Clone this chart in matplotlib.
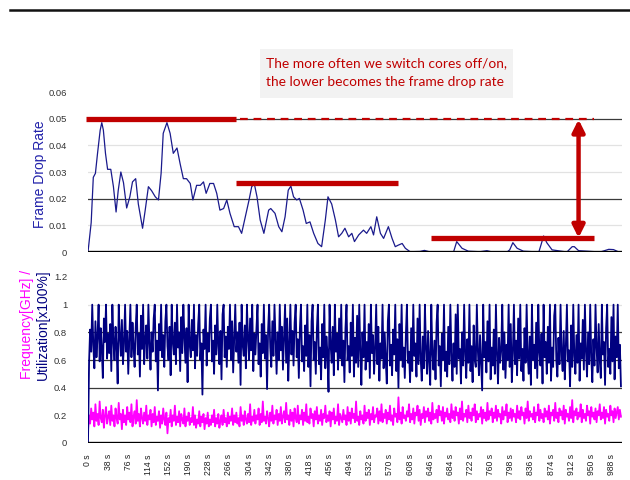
import matplotlib
matplotlib.use("Agg")
import matplotlib.pyplot as plt
from matplotlib.patches import Rectangle
import numpy as np

# frame drop rate over time (s, rate)
drop_t = [0, 6, 10, 14, 18, 23, 26, 29, 33, 37, 43, 48, 53, 57, 62, 67, 73, 79, 84, 90,
          95, 103, 108, 114, 120, 127, 133, 138, 142, 149, 155, 161, 168, 174, 180, 186,
          193, 198, 205, 212, 218, 223, 230, 237, 243, 249, 256, 262, 268, 276, 284, 290,
          297, 304, 309, 314, 319, 325, 332, 341, 345, 353, 360, 366, 372, 378, 383, 388,
          394, 399, 406, 412, 419, 426, 434, 441, 448, 453, 460, 467, 473, 479, 485, 492,
          498, 503, 511, 520, 526, 534, 539, 545, 552, 558, 567, 574, 580, 586, 593, 599,
          608, 627, 635, 646, 652, 690, 696, 706, 718, 740, 753, 763, 791, 796, 802, 810,
          822, 851, 855, 860, 866, 876, 904, 914, 918, 926, 967, 983, 992, 1002]
drop_v = [0.0, 0.011, 0.028, 0.0295, 0.037, 0.0457, 0.0485, 0.0457, 0.037, 0.031, 0.031,
          0.0245, 0.015, 0.023, 0.030, 0.026, 0.0165, 0.0207, 0.0263, 0.0275, 0.018, 0.0089,
          0.0157, 0.0245, 0.023, 0.0207, 0.0195, 0.0295, 0.0445, 0.0485, 0.0445, 0.037,
          0.039, 0.033, 0.0275, 0.0275, 0.0257, 0.0195, 0.025, 0.025, 0.0263, 0.022, 0.0257,
          0.0257, 0.022, 0.0157, 0.0163, 0.0195, 0.0145, 0.0095, 0.0095, 0.007, 0.0132,
          0.0195, 0.0245, 0.0255, 0.0207, 0.012, 0.007, 0.0157, 0.0163, 0.0145, 0.0095,
          0.0076, 0.0132, 0.0232, 0.0247, 0.0207, 0.0195, 0.0201, 0.0157, 0.0107, 0.0113,
          0.007, 0.0032, 0.002, 0.012, 0.0207, 0.018, 0.012, 0.0057, 0.007, 0.0089, 0.0057,
          0.007, 0.0039, 0.0064, 0.0082, 0.007, 0.0095, 0.0064, 0.0132, 0.007, 0.0051,
          0.0095, 0.0051, 0.002, 0.0026, 0.0032, 0.0014, 0.0001, 0.0002, 0.0006, 0.0,
          0.0001, 0.0, 0.0039, 0.0014, 0.0003, 0.0001, 0.0005, 0.0, 0.0, 0.0008, 0.0035,
          0.0014, 0.0003, 0.0, 0.0026, 0.006, 0.0035, 0.0008, 0.0, 0.002, 0.002, 0.0005,
          0.0, 0.001, 0.0009, 0.0]

# utilization [x100%], one sample every 2 s
util = [0.0, 0.58, 0.82, 0.66, 1.0, 0.71, 0.54, 0.88, 0.62, 0.77, 1.0, 0.59, 0.83, 0.68, 0.47, 0.9, 0.73, 1.0, 0.61, 0.79,
        0.65, 0.86, 0.52, 1.0, 0.74, 0.6, 0.84, 0.69, 0.43, 1.0, 0.78, 0.63, 0.89, 0.57, 0.72, 1.0, 0.66, 0.81, 0.5, 0.76,
        1.0, 0.62, 0.87, 0.7, 0.55, 0.83, 1.0, 0.64, 0.79, 0.48, 0.92, 0.68, 1.0, 0.57, 0.75, 0.85, 0.61, 1.0, 0.72, 0.53,
        0.8, 0.66, 0.9, 1.0, 0.59, 0.74, 0.38, 0.86, 0.67, 1.0, 0.62, 0.78, 0.55, 0.88, 1.0, 0.7, 0.6, 0.84, 0.49, 1.0,
        0.73, 0.64, 0.87, 0.57, 1.0, 0.69, 0.8, 0.52, 0.91, 0.65, 1.0, 0.76, 0.58, 0.83, 0.44, 1.0, 0.71, 0.62, 0.89, 0.67,
        1.0, 0.54, 0.78, 0.63, 0.86, 1.0, 0.6, 0.72, 0.35, 0.82, 0.68, 1.0, 0.56, 0.79, 0.66, 0.9, 1.0, 0.59, 0.74, 0.5,
        0.85, 0.64, 1.0, 0.7, 0.57, 0.81, 0.46, 0.93, 1.0, 0.62, 0.77, 0.55, 0.84, 0.68, 1.0, 0.6, 0.88, 0.51, 0.75, 1.0,
        0.66, 0.8, 0.58, 0.87, 0.42, 1.0, 0.71, 0.63, 0.85, 0.54, 1.0, 0.76, 0.6, 0.9, 0.67, 1.0, 0.52, 0.79, 0.64, 0.83,
        1.0, 0.57, 0.72, 0.48, 0.86, 0.65, 1.0, 0.61, 0.78, 0.39, 0.82, 1.0, 0.69, 0.55, 0.88, 0.63, 1.0, 0.74, 0.5, 0.8,
        0.6, 1.0, 0.67, 0.84, 0.53, 0.76, 1.0, 0.58, 0.9, 0.45, 0.71, 1.0, 0.64, 0.81, 0.56, 0.87, 1.0, 0.62, 0.75, 0.47,
        0.83, 1.0, 0.59, 0.7, 0.52, 0.85, 0.63, 1.0, 0.55, 0.78, 0.41, 0.88, 1.0, 0.6, 0.73, 0.5, 0.82, 1.0, 0.57, 0.69,
        0.46, 0.86, 0.62, 1.0, 0.54, 0.77, 0.65, 0.37, 1.0, 0.71, 0.58, 0.84, 0.49, 1.0, 0.66, 0.79, 0.53, 0.9, 0.61, 1.0,
        0.56, 0.74, 0.44, 0.83, 1.0, 0.6, 0.7, 0.51, 0.87, 0.63, 1.0, 0.48, 0.76, 0.58, 0.92, 0.55, 1.0, 0.67, 0.42, 0.8,
        0.62, 1.0, 0.53, 0.73, 0.59, 0.86, 0.47, 1.0, 0.65, 0.78, 0.5, 0.69, 1.0, 0.57, 0.84, 0.45, 0.72, 0.61, 1.0, 0.54,
        0.8, 0.6, 0.43, 0.88, 1.0, 0.56, 0.71, 0.49, 0.82, 0.64, 1.0, 0.52, 0.75, 0.4, 0.86, 0.6, 1.0, 0.55, 0.69, 0.47,
        0.78, 1.0, 0.58, 0.66, 0.44, 0.83, 0.52, 1.0, 0.63, 0.72, 0.48, 0.9, 0.57, 1.0, 0.61, 0.45, 0.77, 0.54, 1.0, 0.68,
        0.5, 0.81, 0.59, 0.42, 1.0, 0.65, 0.53, 0.74, 0.46, 0.87, 1.0, 0.56, 0.7, 0.41, 0.79, 0.6, 1.0, 0.52, 0.66, 0.48,
        0.84, 0.57, 1.0, 0.63, 0.45, 0.72, 0.55, 0.93, 0.5, 1.0, 0.61, 0.68, 0.43, 0.8, 0.56, 1.0, 0.64, 0.47, 0.75, 0.58,
        1.0, 0.52, 0.7, 0.44, 0.85, 0.6, 0.55, 1.0, 0.66, 0.49, 0.78, 0.57, 0.38, 1.0, 0.62, 0.73, 0.51, 0.88, 0.59, 1.0,
        0.46, 0.69, 0.56, 0.82, 0.5, 1.0, 0.64, 0.43, 0.76, 0.58, 0.67, 1.0, 0.53, 0.8, 0.47, 0.71, 0.6, 1.0, 0.55, 0.86,
        0.44, 0.65, 1.0, 0.57, 0.74, 0.49, 0.9, 0.61, 1.0, 0.52, 0.68, 0.45, 0.83, 0.58, 1.0, 0.63, 0.5, 0.77, 0.42, 1.0,
        0.6, 0.71, 0.54, 0.87, 0.47, 1.0, 0.66, 0.56, 0.79, 0.43, 1.0, 0.62, 0.73, 0.5, 0.84, 0.58, 1.0, 0.45, 0.69, 0.55,
        0.92, 1.0, 0.6, 0.48, 0.76, 0.57, 1.0, 0.64, 0.52, 0.81, 0.46, 0.7, 1.0, 0.59, 0.67, 0.41, 0.85, 0.55, 1.0, 0.63,
        0.5, 0.78, 0.58, 1.0, 0.45, 0.72, 0.61, 0.89, 0.53, 1.0, 0.66, 0.48, 0.8, 0.57, 1.0, 0.62, 0.44, 0.75, 0.56, 1.0,
        0.69, 0.51, 0.86, 0.6, 0.47, 1.0, 0.64, 0.73, 0.42, 0.83, 1.0, 0.55, 0.68, 0.5, 0.91, 0.59, 1.0, 0.46, 0.77, 0.62,
        1.0, 0.54, 0.71, 0.41]

# core frequency [GHz], same 2 s samples
freq = [0.09, 0.2, 0.14, 0.25, 0.17, 0.22, 0.12, 0.28, 0.16, 0.21, 0.13, 0.3, 0.18, 0.15, 0.24, 0.11, 0.2, 0.26, 0.14, 0.19,
        0.23, 0.13, 0.27, 0.16, 0.2, 0.12, 0.25, 0.18, 0.14, 0.29, 0.17, 0.21, 0.1, 0.24, 0.15, 0.2, 0.13, 0.26, 0.17, 0.22,
        0.15, 0.28, 0.12, 0.19, 0.23, 0.14, 0.31, 0.16, 0.21, 0.12, 0.25, 0.18, 0.14, 0.22, 0.16, 0.27, 0.13, 0.2, 0.17, 0.24,
        0.12, 0.21, 0.15, 0.26, 0.13, 0.19, 0.16, 0.23, 0.11, 0.2, 0.14, 0.25, 0.17, 0.13, 0.22, 0.07, 0.18, 0.15, 0.24, 0.12,
        0.2, 0.16, 0.27, 0.13, 0.19, 0.15, 0.23, 0.12, 0.21, 0.17, 0.14, 0.25, 0.12, 0.19, 0.16, 0.22, 0.13, 0.18, 0.15, 0.26,
        0.13, 0.2, 0.11, 0.17, 0.14, 0.23, 0.12, 0.19, 0.15, 0.21, 0.1, 0.18, 0.14, 0.22, 0.12, 0.17, 0.13, 0.2, 0.15, 0.24,
        0.12, 0.18, 0.14, 0.21, 0.11, 0.16, 0.2, 0.13, 0.24, 0.15, 0.18, 0.12, 0.22, 0.14, 0.19, 0.16, 0.25, 0.13, 0.2, 0.15,
        0.22, 0.14, 0.18, 0.12, 0.26, 0.16, 0.2, 0.13, 0.23, 0.17, 0.14, 0.21, 0.15, 0.28, 0.13, 0.19, 0.16, 0.24, 0.14, 0.2,
        0.17, 0.25, 0.13, 0.21, 0.15, 0.3, 0.16, 0.19, 0.14, 0.23, 0.18, 0.12, 0.22, 0.16, 0.27, 0.14, 0.2, 0.17, 0.24, 0.13,
        0.21, 0.16, 0.26, 0.14, 0.19, 0.23, 0.15, 0.29, 0.17, 0.2, 0.13, 0.24, 0.16, 0.22, 0.12, 0.25, 0.18, 0.15, 0.27, 0.14,
        0.2, 0.17, 0.24, 0.13, 0.22, 0.16, 0.28, 0.15, 0.19, 0.14, 0.25, 0.18, 0.21, 0.12, 0.23, 0.17, 0.26, 0.14, 0.2, 0.16,
        0.24, 0.13, 0.21, 0.18, 0.27, 0.15, 0.2, 0.16, 0.23, 0.12, 0.22, 0.17, 0.25, 0.14, 0.19, 0.16, 0.28, 0.13, 0.21, 0.18,
        0.15, 0.24, 0.17, 0.2, 0.13, 0.26, 0.16, 0.22, 0.14, 0.25, 0.18, 0.21, 0.15, 0.3, 0.16, 0.19, 0.13, 0.23, 0.17, 0.2,
        0.14, 0.27, 0.16, 0.22, 0.18, 0.24, 0.13, 0.21, 0.17, 0.26, 0.15, 0.2, 0.19, 0.25, 0.14, 0.23, 0.16, 0.28, 0.15, 0.21,
        0.18, 0.24, 0.14, 0.22, 0.17, 0.27, 0.16, 0.2, 0.13, 0.25, 0.19, 0.21, 0.15, 0.33, 0.17, 0.22, 0.14, 0.26, 0.18, 0.2,
        0.16, 0.23, 0.19, 0.28, 0.15, 0.21, 0.17, 0.25, 0.14, 0.22, 0.2, 0.27, 0.16, 0.24, 0.13, 0.21, 0.18, 0.26, 0.15, 0.23,
        0.19, 0.25, 0.16, 0.22, 0.14, 0.29, 0.17, 0.21, 0.18, 0.24, 0.15, 0.27, 0.2, 0.23, 0.16, 0.26, 0.14, 0.22, 0.19, 0.25,
        0.17, 0.21, 0.15, 0.28, 0.18, 0.23, 0.16, 0.26, 0.2, 0.22, 0.14, 0.25, 0.17, 0.3, 0.16, 0.21, 0.19, 0.24, 0.15, 0.27,
        0.18, 0.22, 0.16, 0.25, 0.2, 0.28, 0.15, 0.23, 0.17, 0.21, 0.19, 0.26, 0.14, 0.24, 0.18, 0.22, 0.16, 0.29, 0.17, 0.23,
        0.2, 0.25, 0.15, 0.22, 0.18, 0.27, 0.16, 0.24, 0.19, 0.21, 0.14, 0.26, 0.17, 0.23, 0.2, 0.28, 0.15, 0.22, 0.18, 0.25,
        0.16, 0.24, 0.19, 0.21, 0.15, 0.27, 0.18, 0.23, 0.17, 0.26, 0.2, 0.22, 0.14, 0.25, 0.18, 0.3, 0.16, 0.23, 0.19, 0.21,
        0.17, 0.26, 0.15, 0.22, 0.2, 0.28, 0.16, 0.24, 0.18, 0.21, 0.15, 0.25, 0.19, 0.23, 0.17, 0.27, 0.14, 0.22, 0.2, 0.24,
        0.16, 0.29, 0.18, 0.22, 0.15, 0.25, 0.2, 0.23, 0.17, 0.27, 0.14, 0.24, 0.19, 0.21, 0.16, 0.26, 0.18, 0.31, 0.15, 0.23,
        0.2, 0.25, 0.17, 0.22, 0.19, 0.28, 0.15, 0.24, 0.18, 0.21, 0.16, 0.27, 0.2, 0.23, 0.14, 0.26, 0.19, 0.22, 0.17, 0.25,
        0.15, 0.23, 0.2, 0.28, 0.17, 0.22, 0.18, 0.26, 0.14, 0.24, 0.19, 0.21, 0.16, 0.27, 0.2, 0.23, 0.15, 0.25, 0.18, 0.22,
        0.26, 0.17, 0.24, 0.19]
sample_step = 2

tick_secs = list(range(0, 989, 38))
tick_labels = ["%d s" % s for s in tick_secs]

# red markers: level lines (start s, end s, rate)
levels = [(-4, 280, 0.0497), (280, 586, 0.0260), (648, 956, 0.0053)]
dash_level = (287, 956, 0.0497)
arrow_x = 926

note = "The more often we switch cores off/on,\nthe lower becomes the frame drop rate"

RED = "#c00000"
NAVY = "#000080"
MAGENTA = "#ff00ff"
DARK = "#3a3a3a"
LIGHT = "#e2e2e2"

plt.rcParams["font.family"] = ["Liberation Sans", "DejaVu Sans"]

fig = plt.figure(figsize=(6.3, 4.8), dpi=100)
W, H = 630.0, 480.0
fig.add_artist(plt.Line2D([10 / W, 1.0], [1 - 10 / H] * 2, color="#111111", lw=1.8))

ax1 = fig.add_axes([88 / W, 1 - 252 / H, 534 / W, 160 / H])
ax2 = fig.add_axes([88 / W, 1 - 443 / H, 534 / W, 166 / H])
xmax = 1008

# top: frame drop rate
for v, c in [(0.01, LIGHT), (0.02, DARK), (0.03, LIGHT), (0.04, LIGHT), (0.05, DARK)]:
    ax1.axhline(v, color=c, lw=0.9, zorder=1)
ax1.plot(drop_t, drop_v, color="#1a1a8c", lw=0.9, zorder=3)
ax1.axhline(0, color="black", lw=2.4, zorder=4)
for x0, x1, v in levels:
    ax1.plot([x0, x1], [v, v], color=RED, lw=3.8, solid_capstyle="butt", zorder=5, clip_on=False)
ax1.plot([dash_level[0], dash_level[1]], [dash_level[2]] * 2, color=RED, lw=1.6,
         dashes=(3.5, 2.6), zorder=5)
ax1.annotate("", xy=(arrow_x, levels[0][2]), xytext=(arrow_x, levels[2][2]),
             arrowprops=dict(arrowstyle="<|-|>", color=RED, lw=3.2,
                             mutation_scale=18, shrinkA=0, shrinkB=0), zorder=6)
ax1.set_xlim(0, xmax)
ax1.set_ylim(0, 0.06)
ax1.set_yticks([0, 0.01, 0.02, 0.03, 0.04, 0.05, 0.06])
ax1.set_yticklabels(["0", "0.01", "0.02", "0.03", "0.04", "0.05", "0.06"])
ax1.set_xticks([])

# bottom: utilization and frequency
for v, c in [(0.2, LIGHT), (0.4, DARK), (0.6, DARK), (0.8, DARK), (1.0, LIGHT)]:
    ax2.axhline(v, color=c, lw=0.9, zorder=1)
t = np.arange(len(util)) * sample_step
ax2.plot(t, util, color=NAVY, lw=1.3, zorder=3)
ax2.plot(t, freq, color=MAGENTA, lw=1.3, zorder=2)
ax2.axhline(0, color="black", lw=2.4, zorder=4)
ax2.set_xlim(0, xmax)
ax2.set_ylim(0, 1.2)
ax2.set_yticks([0, 0.2, 0.4, 0.6, 0.8, 1.0, 1.2])
ax2.set_yticklabels(["0", "0.2", "0.4", "0.6", "0.8", "1", "1.2"])
ax2.set_xticks(tick_secs)
ax2.set_xticklabels(tick_labels, rotation=90, fontsize=6.2, color="#222222")
ax2.tick_params(axis="x", length=0, pad=8)

for ax in (ax1, ax2):
    for s in ax.spines.values():
        s.set_visible(False)
    ax.tick_params(axis="y", length=0, pad=15, labelsize=6.8, labelcolor="#333333")
    ax.set_facecolor("none")

fig.text(40 / W, 1 - 174 / H, "Frame Drop Rate", rotation=90, color="#2222aa",
         fontsize=10, ha="center", va="center")
fig.text(27 / W, 1 - 379 / H, "Frequency[GHz] /", rotation=90, color=MAGENTA,
         fontsize=10, ha="center", va="bottom")
fig.text(43 / W, 1 - 380 / H, "Utilization[x100%]", rotation=90, color=NAVY,
         fontsize=10, ha="center", va="bottom")

# callout box
fig.add_artist(Rectangle((260 / W, 1 - 98 / H), 253 / W, 49 / H, transform=fig.transFigure,
                         facecolor="#f2f2f2", edgecolor="none"))
fig.text(266 / W, 1 - 73 / H, note, color=RED, fontsize=9.9, ha="left", va="center",
         family=["Lato", "DejaVu Sans"], linespacing=1.7)

fig.savefig("out.png", dpi=100)
